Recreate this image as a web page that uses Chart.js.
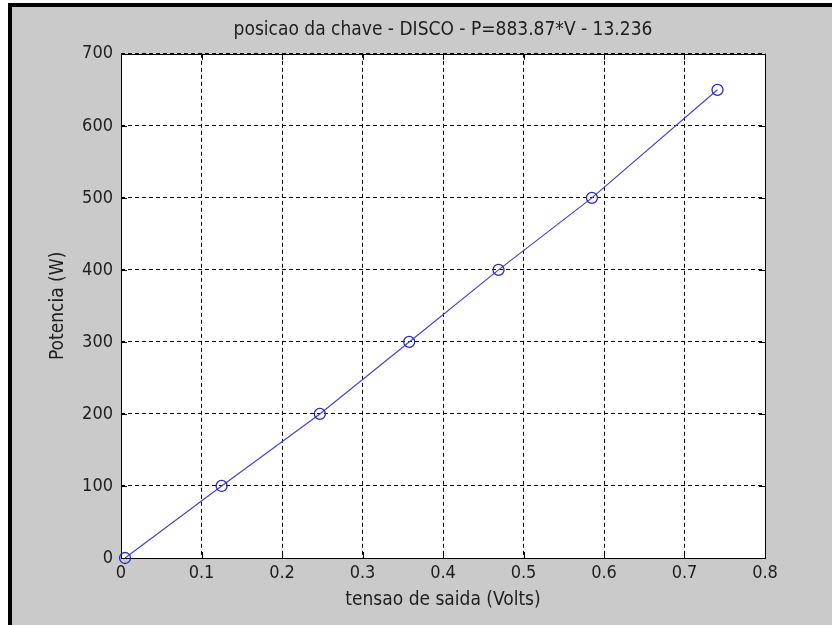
<!DOCTYPE html>
<html><head><meta charset="utf-8">
<script src="https://cdn.jsdelivr.net/npm/chart.js@4/dist/chart.umd.min.js"></script>
<style>html,body{margin:0;padding:0;background:#fff}canvas{display:block}</style>
</head><body>
<canvas id="c" width="832" height="625"></canvas>
<script>
// ---- data ----
const tensao = [0.005, 0.125, 0.247, 0.358, 0.469, 0.585, 0.741];
const potencia = [0, 100, 200, 300, 400, 500, 650];
const xTickValues = [0, 0.1, 0.2, 0.3, 0.4, 0.5, 0.6, 0.7, 0.8];
const yTickValues = [0, 100, 200, 300, 400, 500, 600, 700];
const titleText = 'posicao da chave - DISCO - P=883.87*V - 13.236';
const xLabel = 'tensao de saida (Volts)';
const yLabel = 'Potencia (W)';

const FONT = '"Liberation Sans Narrow", "DejaVu Sans Condensed", "Arial Narrow", sans-serif';
const TEXT = '#1e1e1e';
const BG = '#cacaca';

const framePlugin = {
  id: 'frame',
  beforeDraw(chart) {
    const ctx = chart.ctx, W = chart.width, H = chart.height, a = chart.chartArea;
    ctx.save();
    ctx.fillStyle = '#ffffff'; ctx.fillRect(0, 0, W, H);
    ctx.fillStyle = BG; ctx.fillRect(8, 3, W - 8, H - 3);
    ctx.fillStyle = '#000000';
    ctx.fillRect(8, 3, 4, H - 3);
    ctx.fillRect(8, 3, W - 8, 4);
    ctx.fillStyle = '#ffffff';
    ctx.fillRect(a.left, a.top, a.right - a.left, a.bottom - a.top);
    ctx.restore();
  },
  afterLayout(chart) {
    const tb = chart.titleBlock, a = chart.chartArea;
    if (tb) { tb.left = a.left; tb.right = a.right; }
  },
  beforeDatasetsDraw(chart) {
    const ctx = chart.ctx, a = chart.chartArea;
    const xs = chart.scales.x, ys = chart.scales.y;
    ctx.save();
    ctx.strokeStyle = '#000000';
    ctx.lineWidth = 1;
    ctx.setLineDash([]);
    ctx.beginPath();
    const L = 6;
    xs.ticks.forEach(t => {
      const px = Math.round(xs.getPixelForValue(t.value)) + 0.5;
      ctx.moveTo(px, a.bottom); ctx.lineTo(px, a.bottom - L);
      ctx.moveTo(px, a.top); ctx.lineTo(px, a.top + L);
    });
    ys.ticks.forEach(t => {
      const py = Math.round(ys.getPixelForValue(t.value)) + 0.5;
      ctx.moveTo(a.left, py); ctx.lineTo(a.left + L, py);
      ctx.moveTo(a.right, py); ctx.lineTo(a.right - L, py);
    });
    ctx.stroke();
    ctx.strokeRect(Math.round(a.left) + 0.5, Math.round(a.top) + 0.5,
                   Math.round(a.right - a.left), Math.round(a.bottom - a.top));
    ctx.restore();
  }
};

new Chart(document.getElementById('c'), {
  type: 'scatter',
  data: {
    datasets: [{
      data: tensao.map((v, i) => ({x: v, y: potencia[i]})),
      showLine: true,
      borderColor: '#4646c4',
      borderWidth: 1.2,
      pointStyle: 'circle',
      pointRadius: 5.5,
      pointHoverRadius: 5.5,
      pointBorderColor: '#2a2ac0',
      pointBorderWidth: 1.3,
      pointBackgroundColor: 'rgba(0,0,0,0)',
      clip: false,
      tension: 0
    }]
  },
  options: {
    responsive: false,
    animation: false,
    events: [],
    layout: { padding: { left: 0, right: 67, top: 0, bottom: 0 } },
    plugins: {
      legend: { display: false },
      tooltip: { enabled: false },
      title: {
        display: true,
        text: titleText,
        color: TEXT,
        font: { family: FONT, size: 19, weight: 'normal', lineHeight: 1.2 },
        padding: { top: 19, bottom: 12 }
      }
    },
    scales: {
      x: {
        type: 'linear',
        min: 0, max: 0.8,
        afterBuildTicks: s => { s.ticks = xTickValues.map(v => ({value: v})); },
        afterFit: s => { s.height = 67; },
        ticks: {
          color: TEXT, padding: 5, maxRotation: 0,
          font: { family: FONT, size: 18 },
          callback: v => String(+v.toFixed(1))
        },
        grid: { color: '#000000', lineWidth: 1, drawTicks: false },
        border: { display: false, dash: [4, 3] },
        title: {
          display: true, text: xLabel, color: TEXT,
          font: { family: FONT, size: 19, lineHeight: 1.2 },
          padding: { top: 0, bottom: 14 }
        }
      },
      y: {
        type: 'linear',
        min: 0, max: 700,
        afterBuildTicks: s => { s.ticks = yTickValues.map(v => ({value: v})); },
        afterFit: s => { s.width = 121; },
        ticks: {
          color: TEXT, padding: 8,
          font: { family: FONT, size: 18 },
          callback: v => String(v)
        },
        grid: { color: '#000000', lineWidth: 1, drawTicks: false },
        border: { display: false, dash: [4, 3] },
        title: {
          display: true, text: yLabel, color: TEXT,
          font: { family: FONT, size: 19, lineHeight: 1.2 },
          padding: { top: 47, bottom: 0 }
        }
      }
    }
  },
  plugins: [framePlugin]
});
</script>
</body></html>
